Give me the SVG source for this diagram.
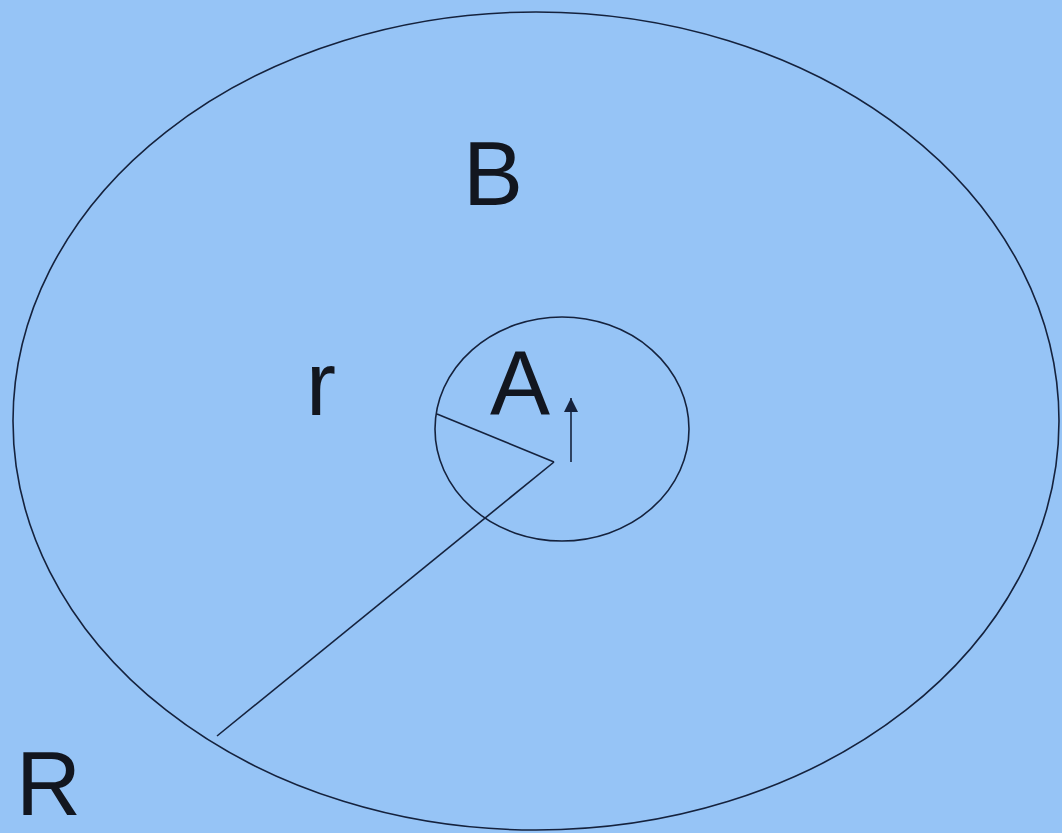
<svg xmlns="http://www.w3.org/2000/svg" width="1062" height="833" viewBox="0 0 1062 833">
<defs>
<style>
.ln{fill:none;stroke:#15223d;stroke-width:1.6}
.lbl{font-family:"Liberation Sans",Arial,sans-serif;font-size:90px;fill:#12161f}
</style>
<marker id="ah" viewBox="0 0 10 10" refX="10" refY="5" markerWidth="14" markerHeight="14" markerUnits="userSpaceOnUse" orient="auto"><path d="M0,0 L10,5 L0,10 z" fill="#15223d"/></marker>
</defs>
<rect width="1062" height="833" fill="#96c4f6"/>
<g id="outer"><ellipse class="ln" cx="536" cy="421" rx="523" ry="409"/></g>
<g id="inner"><ellipse class="ln" cx="562" cy="429" rx="127" ry="112"/></g>
<g id="connectors">
<line class="ln" x1="554" y1="462" x2="437" y2="414"/>
<line class="ln" x1="554" y1="462" x2="217" y2="736"/>
<line class="ln" x1="571" y1="462" x2="571" y2="398" marker-end="url(#ah)"/>
</g>
<g id="labels">
<text class="lbl" x="463" y="205">B</text>
<text class="lbl" x="490" y="414">A</text>
<text class="lbl" x="306" y="415">r</text>
<text class="lbl" x="16" y="815">R</text>
</g>
</svg>
